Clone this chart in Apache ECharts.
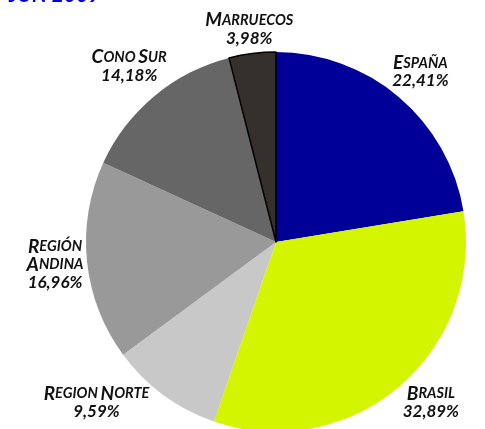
<!DOCTYPE html>
<html>
<head>
<meta charset="utf-8">
<script src="https://cdn.jsdelivr.net/npm/echarts@6/dist/echarts.min.js"></script>
<style>
html, body { margin: 0; padding: 0; background: #fff; }
#main { width: 485px; height: 429px; }
</style>
</head>
<body>
<div id="main"></div>
<script>
// datos del gráfico
var regiones = ['España', 'Brasil', 'Region Norte', 'Región Andina', 'Cono Sur', 'Marruecos'];
var porcentajes = [22.41, 32.89, 9.59, 16.96, 14.18, 3.98];
var colores = ['#000099', '#d4f500', '#c8c8c8', '#999999', '#666666', '#35302c'];

// nombre en versalitas: primera letra grande, resto pequeño
function versalitas(nombre) {
    return nombre.split('\n').map(function(linea) {
        return linea.split(' ').map(function(pal) {
            return '{cap|' + pal.charAt(0).toUpperCase() + '}{sc|' + pal.slice(1).toUpperCase() + '}';
        }).join(' ');
    }).join('\n');
}

var etiquetas = {
    'Región Andina': 'Región\nAndina'
};

var fuente = 'Lato';
var W = 485, H = 429;
var centro = [276, 242];
var radio = 190;
var separacion = 1;

// ángulo medio de cada porción (radianes, sentido horario desde arriba)
var total = porcentajes.reduce(function(a, b) { return a + b; }, 0);
var angulos = [];
var acum = 0;
porcentajes.forEach(function(v) {
    angulos.push((acum + v / 2) / total * 2 * Math.PI);
    acum += v;
});

// coloca la etiqueta en la dirección radial, dentro del lienzo y fuera del círculo
function colocarEtiqueta(params) {
    var a = angulos[params.dataIndex];
    var dx = Math.sin(a), dy = -Math.cos(a);
    var w = params.labelRect.width, h = params.labelRect.height;
    var d = radio + separacion + Math.abs(dx) * w / 2 + Math.abs(dy) * h / 2;
    var cx = centro[0] + dx * d;
    var cy = centro[1] + dy * d;
    cx = Math.min(Math.max(cx, w / 2 + 2), W - w / 2 - 2);
    cy = Math.min(Math.max(cy, h / 2 + 2), H - h / 2 - 8);
    // si toca el círculo, empujar en horizontal
    var yCerca = Math.min(Math.abs(cy - h / 2 - centro[1]), Math.abs(cy + h / 2 - centro[1]));
    if (yCerca < radio) {
        var xBorde = Math.sqrt(radio * radio - yCerca * yCerca);
        if (dx < 0) {
            cx = Math.min(cx, centro[0] - xBorde - separacion - w / 2);
        } else {
            cx = Math.max(cx, centro[0] + xBorde + separacion + w / 2);
        }
    }
    return { x: cx, y: cy, align: 'center', verticalAlign: 'middle' };
}

var chartDom = document.getElementById('main');
var myChart = echarts.init(chartDom);

var datos = regiones.map(function(r, i) {
    var d = { name: r, value: porcentajes[i], itemStyle: { color: colores[i] } };
    if (r === 'Marruecos') {
        d.itemStyle.borderColor = '#000';
        d.itemStyle.borderWidth = 1.5;
    }
    return d;
});

var option = {
    animation: false,
    title: {
        text: 'JUN 2009',
        left: 4,
        top: -20,
        textStyle: { color: '#0000cc', fontSize: 21, fontWeight: 'bold', fontStyle: 'italic', fontFamily: fuente }
    },
    series: [{
        type: 'pie',
        center: centro,
        radius: radio,
        startAngle: 90,
        clockwise: true,
        data: datos,
        labelLine: { show: false },
        labelLayout: colocarEtiqueta,
        label: {
            position: 'outside',
            alignTo: 'none',
            overflow: 'none',
            color: '#111',
            fontFamily: fuente,
            fontStyle: 'italic',
            fontWeight: 'bold',
            align: 'center',
            lineHeight: 18,
            formatter: function(p) {
                var n = etiquetas[p.name] || p.name;
                return versalitas(n) + '\n{num|' + p.value.toFixed(2).replace('.', ',') + '%}';
            },
            rich: {
                cap: { fontSize: 19, fontStyle: 'italic', fontWeight: 'bold', fontFamily: fuente, color: '#111', lineHeight: 18 },
                sc: { fontSize: 14.5, fontStyle: 'italic', fontWeight: 'bold', fontFamily: fuente, color: '#111', lineHeight: 18 },
                num: { fontSize: 17, fontStyle: 'italic', fontWeight: 'bold', fontFamily: fuente, color: '#111', lineHeight: 18 }
            }
        }
    }]
};

option && myChart.setOption(option);
</script>
</body>
</html>
